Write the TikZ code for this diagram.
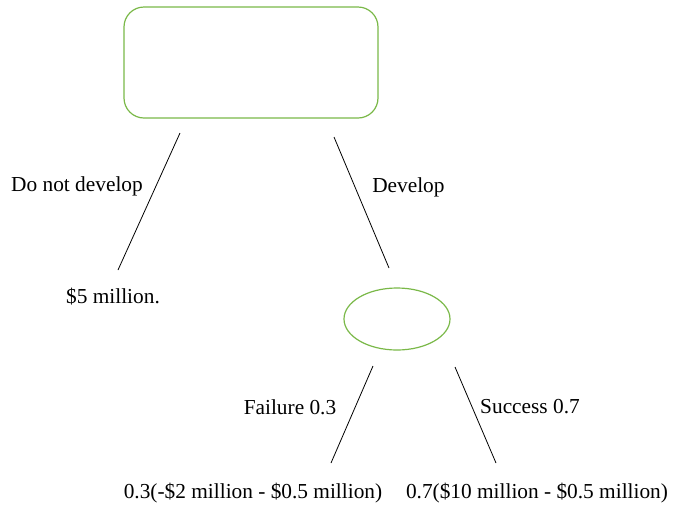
\documentclass[tikz,border=0pt]{standalone}
\usepackage{fontspec}
\setmainfont{Liberation Serif}[Ligatures=TeX]
\usetikzlibrary{shapes.geometric}
\definecolor{leafgreen}{RGB}{122,184,72}
\begin{document}
\begin{tikzpicture}[x=0.75pt,y=-0.75pt,
  decision/.style={draw=leafgreen,line width=0.9pt,rounded corners=15pt},
  chance/.style={draw=leafgreen,line width=0.9pt,ellipse,minimum width=79.5pt,minimum height=46.5pt,inner sep=0pt},
  branch/.style={draw=black,line width=0.6pt},
  lbl/.style={font=\rmfamily\fontsize{16}{19}\selectfont,inner sep=0pt}]
\useasboundingbox (0,0) rectangle (679,508);
% decision box
\draw[decision] (124,7) rectangle (378,118);
% chance node
\node[chance] (chance) at (397,319) {};
% branch end points
\coordinate (dnTop) at (180,133);
\coordinate (dnBot) at (118,270);
\coordinate (dvTop) at (334,137);
\coordinate (dvBot) at (389,268);
\coordinate (fTop) at (373,366);
\coordinate (fBot) at (331,463);
\coordinate (sTop) at (455,367);
\coordinate (sBot) at (496,463);
\draw[branch] (dnTop) -- (dnBot);
\draw[branch] (dvTop) -- (dvBot);
\draw[branch] (fTop) -- (fBot);
\draw[branch] (sTop) -- (sBot);
% labels
\node[lbl] (dn) at (77,186) {Do not develop};
\node[lbl,anchor=west] (dv) at (372,187) {Develop};
\node[lbl] (five) at (113,297) {\$5 million.};
\node[lbl] (fail) at (290,407) {Failure 0.3};
\node[lbl] (succ) at (530,407) {Success 0.7};
\node[lbl] (failv) at (253,493) {0.3(-\$2 million - \$0.5 million)};
\node[lbl] (succv) at (537,493) {0.7(\$10 million - \$0.5 million)};
\end{tikzpicture}
\end{document}
